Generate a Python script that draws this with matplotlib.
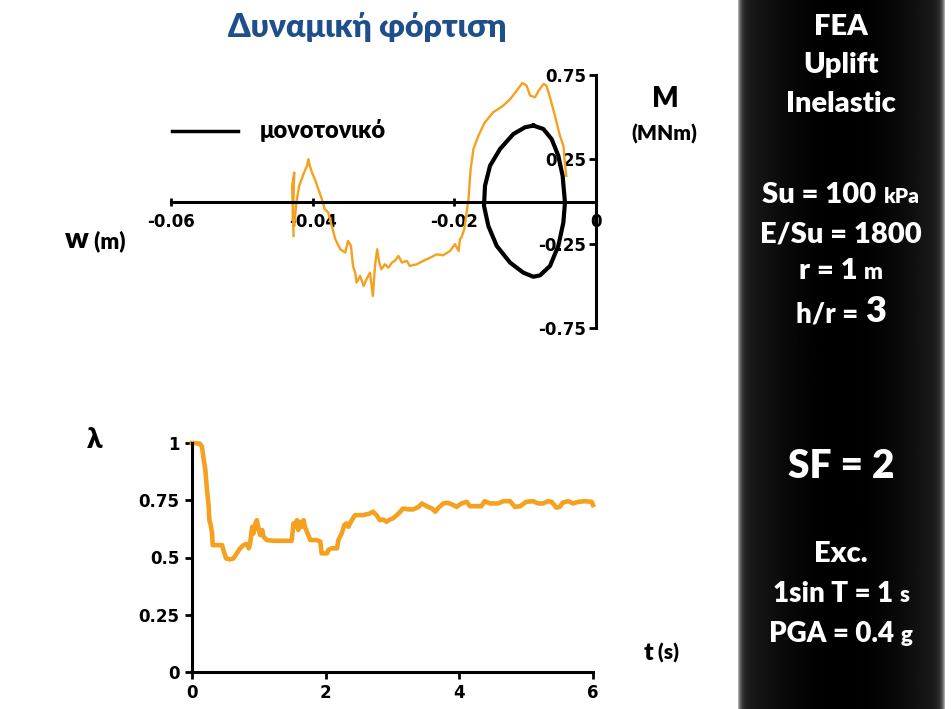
import numpy as np
import matplotlib
matplotlib.use('Agg')
import matplotlib.pyplot as plt

# M - w, dynamic loading (orange curve)
w_dyn = [-0.0427, -0.0429, -0.0426, -0.0428, -0.0426, -0.0423, -0.0419, -0.0413, -0.0408, -0.0406,
         -0.0404, -0.0401, -0.0397, -0.0392, -0.0387, -0.0383, -0.0378, -0.0373, -0.0368, -0.0361,
         -0.0354, -0.0350, -0.0346, -0.0343, -0.0340, -0.0338, -0.0333, -0.0328, -0.0324, -0.0319,
         -0.0315, -0.0312, -0.0309, -0.0306, -0.0303, -0.0298, -0.0293, -0.0288, -0.0284, -0.0279,
         -0.0274, -0.0267, -0.0263, -0.0253, -0.0244, -0.0234, -0.0225, -0.0216, -0.0206, -0.0199,
         -0.0194, -0.0192, -0.0190, -0.0186, -0.0184, -0.0180, -0.0177, -0.0173, -0.0166, -0.0157,
         -0.0145, -0.0131, -0.0121, -0.0112, -0.0104, -0.0098, -0.0093, -0.0086, -0.0081, -0.0074,
         -0.0070, -0.0065, -0.0058, -0.0051, -0.0046, -0.0044, -0.0042]
M_dyn = [-0.204, 0.093, 0.172, -0.105, -0.145, -0.006, 0.093, 0.162, 0.212, 0.251,
         0.212, 0.172, 0.133, 0.073, 0.014, -0.046, -0.065, -0.145, -0.224, -0.283,
         -0.303, -0.234, -0.263, -0.382, -0.422, -0.481, -0.442, -0.501, -0.461, -0.422,
         -0.560, -0.382, -0.283, -0.362, -0.402, -0.372, -0.392, -0.362, -0.352, -0.323,
         -0.362, -0.352, -0.382, -0.372, -0.352, -0.333, -0.313, -0.319, -0.293, -0.253,
         -0.293, -0.224, -0.214, -0.164, -0.105, 0.014, 0.192, 0.311, 0.390, 0.469,
         0.529, 0.568, 0.608, 0.657, 0.703, 0.687, 0.628, 0.618, 0.657, 0.697,
         0.687, 0.618, 0.509, 0.390, 0.331, 0.232, 0.152]

# monotonic (black loop)
w_mono = [-0.00885, -0.00744, -0.00626, -0.00532, -0.00471, -0.00438, -0.00461, -0.00532, -0.00649,
          -0.00791, -0.00885, -0.01026, -0.01214, -0.01402, -0.01520, -0.01581, -0.01567, -0.01496,
          -0.01355, -0.01167, -0.01002, -0.00885]
M_mono = [0.450, 0.430, 0.370, 0.271, 0.152, -0.006, -0.125, -0.263, -0.382,
          -0.438, -0.446, -0.422, -0.362, -0.263, -0.145, -0.026, 0.093, 0.212,
          0.311, 0.400, 0.440, 0.450]

# lambda - t
t_dyn = [0.00, 0.12, 0.15, 0.17, 0.20, 0.22, 0.25, 0.26, 0.28, 0.30, 0.31, 0.37, 0.45, 0.47, 0.51,
         0.57, 0.62, 0.67, 0.72, 0.77, 0.82, 0.85, 0.87, 0.90, 0.92, 0.95, 0.97, 1.00, 1.02, 1.05,
         1.07, 1.12, 1.22, 1.37, 1.49, 1.52, 1.54, 1.57, 1.59, 1.62, 1.64, 1.67, 1.69, 1.72, 1.74,
         1.77, 1.87, 1.92, 1.94, 2.02, 2.04, 2.09, 2.17, 2.19, 2.24, 2.28, 2.31, 2.34, 2.39, 2.44,
         2.56, 2.66, 2.71, 2.76, 2.81, 2.86, 2.91, 2.96, 3.01, 3.09, 3.16, 3.24, 3.31, 3.39, 3.44,
         3.51, 3.59, 3.64, 3.69, 3.76, 3.83, 3.91, 3.96, 4.03, 4.11, 4.16, 4.26, 4.33, 4.38, 4.46,
         4.58, 4.66, 4.76, 4.83, 4.91, 5.00, 5.10, 5.18, 5.25, 5.33, 5.38, 5.45, 5.50, 5.55, 5.63,
         5.70, 5.78, 5.88, 5.98, 6.00]
lam_dyn = [1.000, 0.997, 0.983, 0.939, 0.881, 0.808, 0.721, 0.663, 0.642, 0.605, 0.554, 0.554, 0.554, 0.533, 0.496,
           0.492, 0.496, 0.518, 0.540, 0.554, 0.559, 0.540, 0.562, 0.634, 0.605, 0.649, 0.663, 0.620, 0.598, 0.620,
           0.591, 0.576, 0.573, 0.573, 0.573, 0.649, 0.634, 0.663, 0.620, 0.656, 0.634, 0.663, 0.634, 0.612, 0.598,
           0.576, 0.576, 0.569, 0.518, 0.518, 0.533, 0.540, 0.540, 0.576, 0.605, 0.642, 0.649, 0.634, 0.663, 0.685,
           0.685, 0.692, 0.700, 0.685, 0.663, 0.666, 0.656, 0.666, 0.671, 0.692, 0.714, 0.710, 0.710, 0.721, 0.736,
           0.724, 0.714, 0.700, 0.718, 0.736, 0.739, 0.729, 0.721, 0.736, 0.743, 0.724, 0.724, 0.724, 0.746, 0.736,
           0.736, 0.746, 0.746, 0.721, 0.724, 0.743, 0.746, 0.736, 0.736, 0.746, 0.743, 0.718, 0.721, 0.740, 0.746,
           0.736, 0.743, 0.746, 0.743, 0.729]

w_ticks = [-0.06, -0.04, -0.02, 0]
w_labels = ['-0.06', '-0.04', '-0.02', '0']
M_ticks = [-0.75, -0.25, 0.25, 0.75]
M_labels = ['-0.75', '-0.25', '0.25', '0.75']
t_ticks = [0, 2, 4, 6]
lam_ticks = [0, 0.25, 0.5, 0.75, 1]
lam_labels = ['0', '0.25', '0.5', '0.75', '1']

ORANGE = '#f5a01e'
BLUE = '#1f4e8c'
CAL = ['Lato', 'Open Sans', 'DejaVu Sans']
HEAVY = 800

plt.rcParams['font.family'] = ['DejaVu Sans']
plt.rcParams['font.weight'] = 'bold'

W, H = 953, 709
fig = plt.figure(figsize=(W / 100, H / 100), dpi=100)


def box(l, t, r, b):
    return [l / W, 1 - b / H, (r - l) / W, (b - t) / H]


def rich(segs, xc, base, color='black'):
    # one line of text, pieces of different size, centred on xc, baseline at base (pixels)
    r = fig.canvas.get_renderer()
    texts = [fig.text(0, 1 - base / H, s, fontsize=sz, fontweight=HEAVY, color=color,
                      family=CAL, ha='left', va='baseline') for s, sz in segs]
    widths = [t.get_window_extent(r).width for t in texts]
    x = xc - sum(widths) / 2
    for t, w in zip(texts, widths):
        t.set_x(x / W)
        x += w


# black side panel
axp = fig.add_axes(box(738, 0, 945, 709))
u = np.abs(np.linspace(-1, 1, 400))
shade = 0.13 * u ** 2 + 0.6 * u ** 40
axp.imshow(shade[None, :], cmap='gray', vmin=0, vmax=1, aspect='auto', extent=[0, 1, 0, 1])
axp.axis('off')

# ---- M - w
ax1 = fig.add_axes(box(171, 75, 596, 328))
ax1.plot(w_dyn, M_dyn, color=ORANGE, lw=1.7, solid_joinstyle='round')
ax1.plot(w_mono, M_mono, color='black', lw=3.0, solid_joinstyle='round')
ax1.set_xlim(-0.06, 0)
ax1.set_ylim(-0.75, 0.75)
ax1.spines['bottom'].set_position(('data', 0))
ax1.spines['left'].set_position(('data', 0))
ax1.spines['top'].set_visible(False)
ax1.spines['right'].set_visible(False)
for s in ('bottom', 'left'):
    ax1.spines[s].set_linewidth(2.2)
ax1.set_xticks(w_ticks)
ax1.set_xticklabels(w_labels)
ax1.set_yticks(M_ticks)
ax1.set_yticklabels(M_labels)
ax1.tick_params(axis='x', direction='inout', length=6, width=2, pad=5, labelsize=12)
ax1.tick_params(axis='y', direction='out', length=5, width=2, pad=2, labelsize=12)
ax1.patch.set_alpha(0)

# ---- lambda - t
ax2 = fig.add_axes(box(192, 443, 593, 672))
ax2.plot(t_dyn, lam_dyn, color=ORANGE, lw=3.3, clip_on=False, solid_joinstyle='round')
ax2.set_xlim(0, 6)
ax2.set_ylim(0, 1)
ax2.spines['top'].set_visible(False)
ax2.spines['right'].set_visible(False)
for s in ('bottom', 'left'):
    ax2.spines[s].set_linewidth(2.2)
ax2.set_xticks(t_ticks)
ax2.set_yticks(lam_ticks)
ax2.set_yticklabels(lam_labels)
ax2.tick_params(direction='out', length=5, width=2, pad=4, labelsize=12)
ax2.patch.set_alpha(0)

# legend
fig.add_artist(plt.Line2D([172 / W, 238 / W], [1 - 131 / H, 1 - 131 / H], color='black', lw=2.5))
rich([('μονοτονικό', 17)], 323, 138)

# titles / axis names
rich([('Δυναμική φόρτιση', 23)], 367, 37, color=BLUE)
rich([('M', 20)], 665, 107)
rich([('(MNm)', 15)], 664, 141)
rich([('w', 21), (' (m)', 16)], 95, 248)
rich([('λ', 20)], 95, 448)
rich([('t', 18), (' (s)', 15)], 661, 660)

# panel text
rich([('FEA', 21)], 841, 35, 'white')
rich([('Uplift', 21)], 841, 73, 'white')
rich([('Inelastic', 21)], 841, 112, 'white')
rich([('Su = 100 ', 21), ('kPa', 15)], 841, 203, 'white')
rich([('E/Su = 1800', 21)], 841, 243, 'white')
rich([('r = 1 ', 21), ('m', 16)], 841, 279, 'white')
rich([('h/r = ', 20), ('3', 26)], 841, 322, 'white')
rich([('SF = 2', 28)], 841, 478, 'white')
rich([('Exc.', 21)], 841, 562, 'white')
rich([('1sin T = 1 ', 20), ('s', 16)], 841, 602, 'white')
rich([('PGA = 0.4 ', 20), ('g', 16)], 841, 642, 'white')

fig.savefig('out.png', dpi=100)
